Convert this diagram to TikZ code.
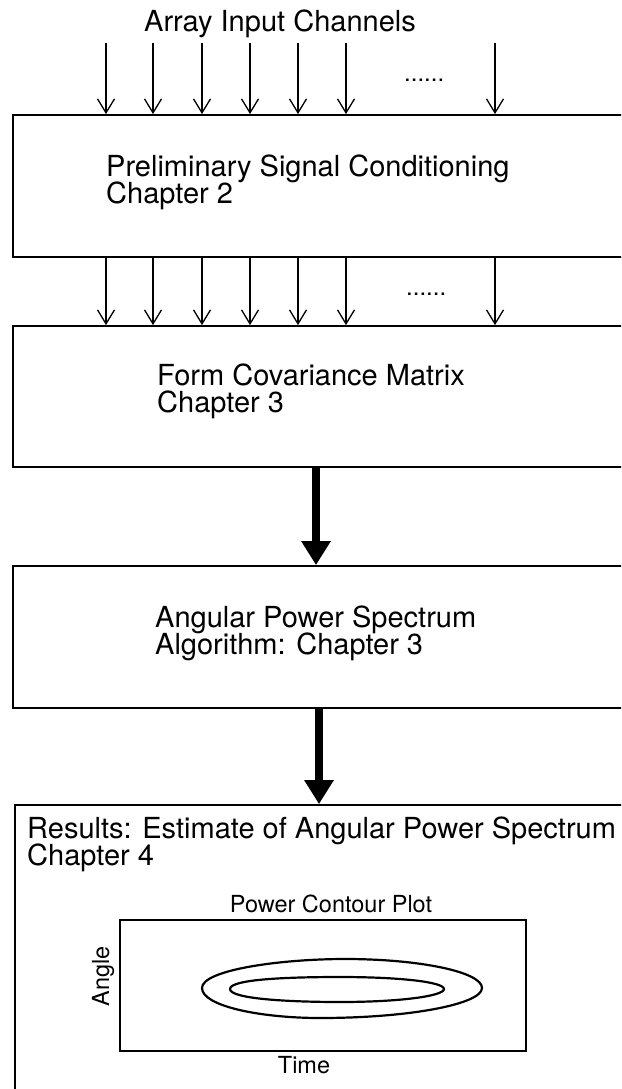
\documentclass[tikz,border=0pt]{standalone}
\usepackage{fontspec}
\setmainfont{TeX Gyre Heros}
\usetikzlibrary{arrows.meta}
\begin{document}
\begin{tikzpicture}[x=1pt,y=-1pt,
  box/.style={draw,line width=1.8pt,rectangle,inner sep=0pt},
  lbl/.style={font=\fontsize{29}{28}\selectfont,anchor=base west,inner sep=0pt},
  small/.style={font=\fontsize{23.5}{24}\selectfont,inner sep=0pt,anchor=base},
  dots/.style={font=\fontsize{24}{24}\selectfont,inner sep=0pt,anchor=base west},
  thinarrow/.style={line width=1.3pt,-{Straight Barb[width=17pt,length=14pt,line width=1.3pt]}},
  bigarrow/.style={line width=8pt,-{Triangle[width=28pt,length=24pt]}}]
\useasboundingbox (0,0) rectangle (621,1089);
\clip (0,0) rectangle (621,1089);
\fill[white] (0,0) rectangle (621,1089);

% boxes
\node[box,minimum width=647pt,minimum height=142pt] (b1) at (336.5,186) {};
\node[box,minimum width=647pt,minimum height=141pt] (b2) at (336.5,396.5) {};
\node[box,minimum width=647pt,minimum height=142pt] (b3) at (336.5,637) {};
\node[box,minimum width=645pt,minimum height=295pt] (b4) at (337.5,952.5) {};

% title
\node[lbl,anchor=base] (title) at (280,32) {Array Input Channels};

% input channel coordinates
\coordinate (a1) at (106,43);
\coordinate (a2) at (153,43);
\coordinate (a3) at (202,43);
\coordinate (a4) at (250,43);
\coordinate (a5) at (298,43);
\coordinate (a6) at (346,43);
\coordinate (a7) at (495,43);

\foreach \i in {1,...,7}{
  \draw[thinarrow] (a\i) -- (a\i |- b1.north);
  \draw[thinarrow] (a\i |- b1.south) -- (a\i |- b2.north);
}
\node[dots] (dots1) at (404,82) {......};
\node[dots] (dots2) at (406,295) {......};

% box texts
\node[lbl] (t1a) at (106,176) {Preliminary Signal Conditioning};
\node[lbl] (t1b) at (106,203) {Chapter 2};
\node[lbl] (t2a) at (157,385) {Form Covariance Matrix};
\node[lbl] (t2b) at (157,412) {Chapter 3};
\node[lbl] (t3a) at (155,627) {Angular Power Spectrum};
\node[lbl] (t3b) at (155,654) {Algorithm: Chapter 3};
\node[lbl] (t4a) at (27,838) {Results: Estimate of Angular Power Spectrum};
\node[lbl] (t4b) at (27,865) {Chapter 4};

% thick arrows
\coordinate (c1) at (316,0);
\coordinate (c2) at (319,0);
\draw[bigarrow] (c1 |- b2.south) -- (c1 |- b3.north);
\draw[bigarrow] (c2 |- b3.south) -- (c2 |- b4.north);

% contour plot
\node[draw,line width=2pt,minimum width=406pt,minimum height=131pt,inner sep=0pt] (plot) at (323,985.5) {};
\node[small] (ptitle) at (331,912) {Power Contour Plot};
\node[small] (time) at (304,1073) {Time};
\node[small,rotate=90] (angle) at (109,976) {Angle};
\draw[line width=2.2pt] (202,988) .. controls (202,970) and (280,959) .. (345,959)
  .. controls (420,959) and (482,972) .. (482,988)
  .. controls (482,1004) and (410,1018) .. (320,1018)
  .. controls (260,1018) and (202,1006) .. (202,988) -- cycle;
\draw[line width=2.2pt] (230,989) .. controls (230,979) and (290,977) .. (340,977)
  .. controls (400,977) and (444,982) .. (444,989)
  .. controls (444,996) and (400,1002) .. (340,1002)
  .. controls (290,1002) and (230,999) .. (230,989) -- cycle;
\end{tikzpicture}
\end{document}
